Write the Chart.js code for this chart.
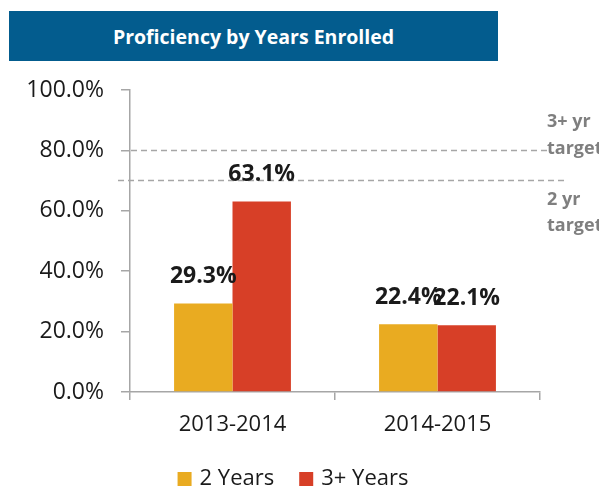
<!DOCTYPE html>
<html>
<head>
<meta charset="utf-8">
<script src="https://cdn.jsdelivr.net/npm/chart.js@4"></script>
<style>
  body { margin: 0; background: #fff; }
  #wrap { position: relative; width: 599px; height: 489px; }
  #title {
    position: absolute; left: 9px; top: 11px; width: 489px; height: 50px;
    background: #035c8e; color: #fff; font: bold 19.5px "Open Sans", sans-serif;
    text-align: center; line-height: 52px;
  }
  canvas { position: absolute; left: 0; top: 0; }
</style>
</head>
<body>
<div id="wrap">
  <canvas id="myGraph" width="599" height="489"></canvas>
  <div id="title">Proficiency by Years Enrolled</div>
</div>
<script>
(() => {

//----- Data -----//

    var years = ['2013-2014', '2014-2015']
    var twoYears = [29.3, 22.4]
    var threePlusYears = [63.1, 22.1]
    var targets = [80, 70]   // 3+ yr target, 2 yr target
    var yTicks = [0, 20, 40, 60, 80, 100]

    var font = '"Open Sans", sans-serif'
    var grey = '#a6a6a6'

//----- Plugins -----//

    // dashed target lines with their notes on the right
    var targetLines = {
        id: 'targetLines',
        afterDatasetsDraw (chart) {
            var ctx = chart.ctx
            var y = chart.scales.y
            ctx.save()
            ctx.strokeStyle = '#a6a6a6'
            ctx.lineWidth = 1.5
            ctx.setLineDash([6, 4])
            var y3 = y.getPixelForValue(targets[0])
            var y2 = y.getPixelForValue(targets[1])
            ctx.beginPath()
            ctx.moveTo(131, y3)
            ctx.lineTo(547, y3)
            ctx.moveTo(118, y2)
            ctx.lineTo(568, y2)
            ctx.stroke()
            ctx.setLineDash([])
            ctx.fillStyle = '#7f7f7f'
            ctx.font = 'bold 18px ' + font
            ctx.textBaseline = 'middle'
            ctx.fillText('3+ yr', 547, y3 - 29)
            ctx.fillText('target', 547, y3 - 2)
            ctx.fillText('2 yr', 547, y2 + 19)
            ctx.fillText('target', 547, y2 + 45)
            ctx.restore()
        }
    }

    // value labels above the bars
    var barLabels = {
        id: 'barLabels',
        afterDatasetsDraw (chart) {
            var ctx = chart.ctx
            ctx.save()
            ctx.fillStyle = '#1a1a1a'
            ctx.font = 'bold 23px ' + font
            ctx.textAlign = 'center'
            ctx.textBaseline = 'middle'
            chart.data.datasets.forEach((ds, i) => {
                chart.getDatasetMeta(i).data.forEach((bar, j) => {
                    ctx.fillText(ds.data[j].toFixed(1) + '%', bar.x, bar.y - 27)
                })
            })
            ctx.restore()
        }
    }

    // legend drawn under the axis
    var bottomLegend = {
        id: 'bottomLegend',
        afterDraw (chart) {
            var ctx = chart.ctx
            var ds = chart.data.datasets
            ctx.save()
            ctx.font = '22px ' + font
            ctx.textBaseline = 'middle'
            var w = ds.map(d => ctx.measureText(d.label).width)
            var total = 14 + 8 + w[0] + 25 + 14 + 8 + w[1]
            var x = 293 - total / 2
            var cy = 479
            ds.forEach((d, i) => {
                ctx.fillStyle = d.backgroundColor
                ctx.fillRect(x, cy - 7, 14, 14)
                ctx.fillStyle = '#1a1a1a'
                ctx.fillText(d.label, x + 22, cy)
                x += 22 + w[i] + 25
            })
            ctx.restore()
        }
    }

//----- Chart -----//

    const data = {
        labels: years,
        datasets: [
            { label: '2 Years', data: twoYears, backgroundColor: '#e9ab21' },
            { label: '3+ Years', data: threePlusYears, backgroundColor: '#d73f27' }
        ]
    }

    const myChart = new Chart(document.getElementById('myGraph'), {
        type: 'bar',
        data: data,
        plugins: [targetLines, barLabels, bottomLegend],
        options: {
            responsive: false,
            animation: false,
            categoryPercentage: 0.57,
            barPercentage: 1,
            layout: { padding: { top: 90, right: 59, left: 0, bottom: 0 } },
            plugins: {
                tooltip: { enabled: false },
                legend: { display: false }
            },
            scales: {
                x: {
                    grid: { drawOnChartArea: false, color: grey, lineWidth: 1.5, tickLength: 8 },
                    border: { color: grey, width: 1.5 },
                    ticks: { color: '#1a1a1a', font: { family: font, size: 22 }, padding: 12 },
                    afterFit (scale) { scale.height = 97 }
                },
                y: {
                    min: 0, max: 100,
                    afterBuildTicks (scale) { scale.ticks = yTicks.map(v => ({ value: v })) },
                    grid: { drawOnChartArea: false, color: grey, lineWidth: 1.5, tickLength: 9 },
                    border: { color: grey, width: 1.5 },
                    ticks: {
                        color: '#1a1a1a', font: { family: font, size: 23 }, padding: 17,
                        callback: v => v.toFixed(1) + '%'
                    },
                    afterFit (scale) { scale.width = 130 }
                }
            }
        }
    })

})();
</script>
</body>
</html>
